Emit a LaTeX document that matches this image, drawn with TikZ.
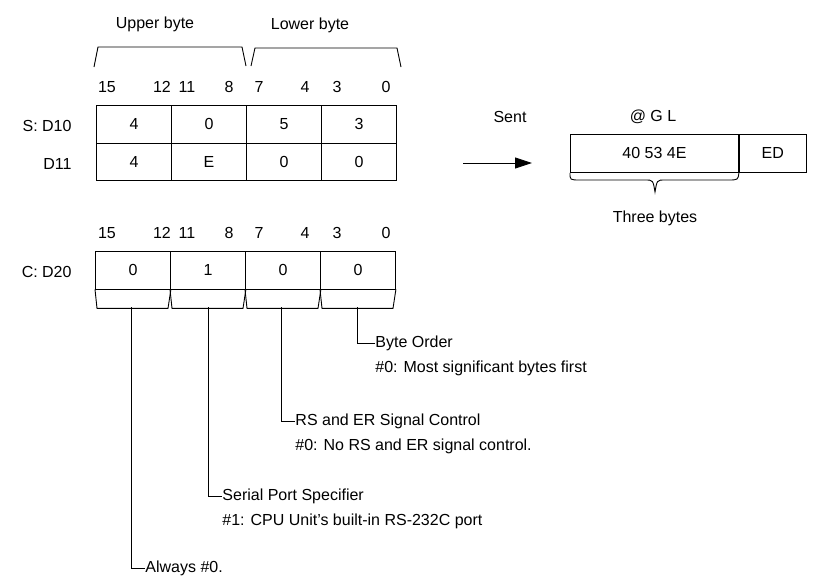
\documentclass[tikz,border=0pt]{standalone}
\usepackage{fontspec}
\setmainfont{Liberation Sans}
\usetikzlibrary{arrows.meta}
\begin{document}
\begin{tikzpicture}[x=1pt,y=-1pt,line width=0.9pt,
  t/.style={font=\fontsize{16}{18}\selectfont,inner sep=0pt},
  lt/.style={t,anchor=west},
  cell/.style={draw,minimum width=75pt,minimum height=37.5pt,t,anchor=north west}]
\useasboundingbox (0,0) rectangle (823,582);
\node[t] (ub) at (155,24) {Upper byte};
\node[t] (lb) at (310,25) {Lower byte};
\draw (94,67) -- (98,47) -- (242,47) -- (246,66);
\draw (251,66) -- (255,48) -- (397,48) -- (401,67);
\foreach \y/\n in {87/a,233/b}{
  \node[t] at (107,\y) {15}; \node[t] at (162,\y) {12};
  \node[t] at (187,\y) {11}; \node[t] at (229,\y) {8};
  \node[t] at (259,\y) {7}; \node[t] at (305,\y) {4};
  \node[t] at (337,\y) {3}; \node[t] at (386,\y) {0};}
\node[t,anchor=east] (s10) at (72,126) {S: D10};
\node[t,anchor=east] (s11) at (72,164) {D11};
\node[t,anchor=east] (c20) at (72,272) {C: D20};
\foreach \v [count=\i from 0] in {4,0,5,3}
  \node[cell] (a\i) at (96+75*\i,105) {\v};
\foreach \v [count=\i from 0] in {4,E,0,0}
  \node[cell] (b\i) at (96+75*\i,142.5) {\v};
\foreach \v [count=\i from 0] in {0,1,0,0}{
  \node[cell] (c\i) at (95+75*\i,251) {\v};
  \draw (c\i.south west) -- ++(2,19) -- ++(71,0) -- (c\i.south east);}
\node[t] (sent) at (510,117) {Sent};
\coordinate (as) at (463,163);
\node[draw,minimum width=168pt,minimum height=38pt,t,anchor=north west] (r1) at (570,134) {40 53 4E};
\node[draw,minimum width=67pt,minimum height=38pt,t,anchor=west] (r2) at (r1.east) {ED};
\draw[-{Triangle[length=17pt,width=11pt]}] (as) -- (532,163);
\node[t] (gl) at (653,117) {@ G L};
\draw (r1.south west) .. controls (570,180) .. (580,180) -- (645,180) .. controls (653,180) .. (655,192)
  .. controls (657,180) .. (665,180) -- (728,180) .. controls (738,180) .. (r1.south east);
\node[t] (tb) at (655,218) {Three bytes};
\node[lt] (bo) at (375,343) {Byte Order};
\node[lt] (bo2) at (375,368) {\#0: Most significant bytes first};
\node[lt] (rs) at (295,421) {RS and ER Signal Control};
\node[lt] (rs2) at (295,446) {\#0: No RS and ER signal control.};
\node[lt] (sp) at (222,496) {Serial Port Specifier};
\node[lt] (sp2) at (222,521) {\#1: CPU Unit's built-in RS-232C port};
\node[lt] (al) at (145,568) {Always \#0.};
\draw (357,307) |- (bo.west);
\draw (281,307) |- (rs.west);
\draw (208,307) |- (sp.west);
\draw (131,307) |- (al.west);
\end{tikzpicture}
\end{document}
